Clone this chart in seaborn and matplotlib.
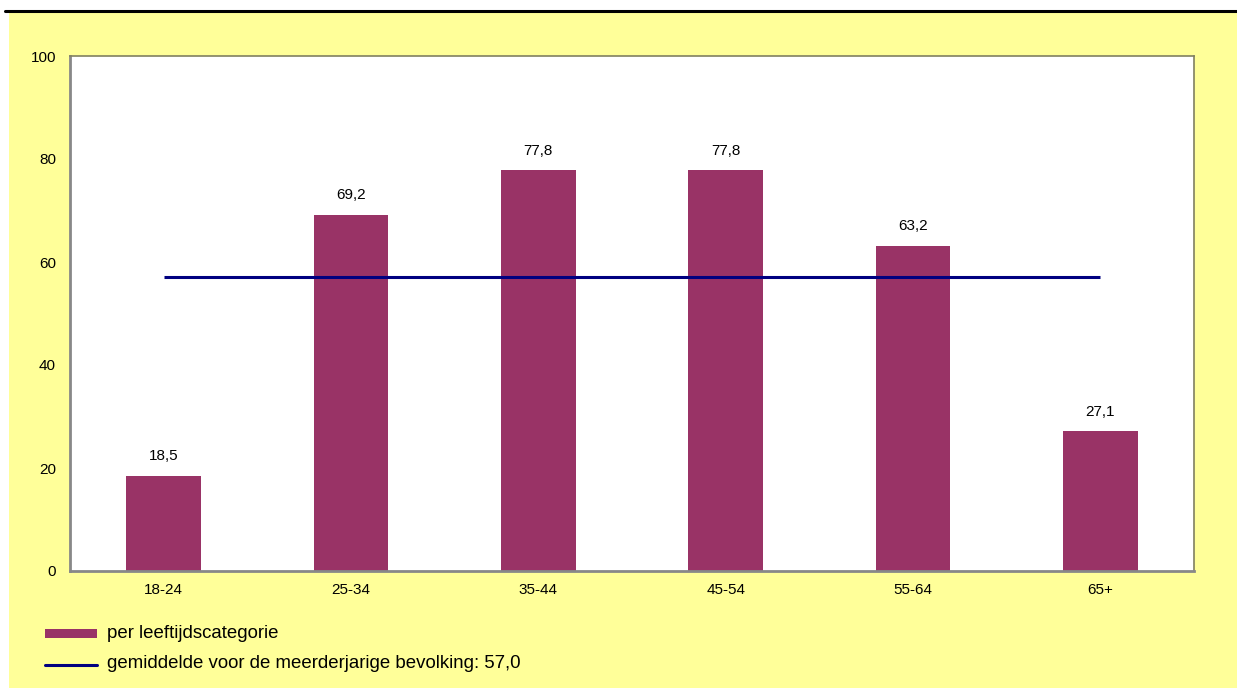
import matplotlib
matplotlib.use("Agg")
import matplotlib.pyplot as plt
import seaborn as sns
import pandas as pd
from matplotlib.patches import Rectangle
from matplotlib.lines import Line2D

# Age categories and their percentages
categories = ["18-24", "25-34", "35-44", "45-54", "55-64", "65+"]
values = [18.5, 69.2, 77.8, 77.8, 63.2, 27.1]
average = 57.0
yticks = [0, 20, 40, 60, 80, 100]

bar_label = "per leeftijdscategorie"
avg_label = "gemiddelde voor de meerderjarige bevolking: 57,0"

bar_color = "#993366"
avg_color = "#000080"
panel_color = "#FFFF99"

sns.set_theme(style="white")
plt.rcParams["font.family"] = ["Liberation Sans", "DejaVu Sans"]

W, H = 1237, 690
fig = plt.figure(figsize=(W / 100, H / 100), dpi=100)
fig.patch.set_facecolor("white")

# Yellow panel and black rule along the top
fig.add_artist(Rectangle((9 / W, 2 / H), 1 - 9 / W, 1 - 14 / H,
                         transform=fig.transFigure, facecolor=panel_color,
                         edgecolor="none", zorder=0))
fig.add_artist(Line2D([5 / W, 1], [1 - 10.5 / H, 1 - 10.5 / H],
                      transform=fig.transFigure, color="black", lw=2.2, zorder=1))

ax = fig.add_axes([70 / W, (H - 571) / H, 1124 / W, 515 / H])
ax.set_facecolor("white")

df = pd.DataFrame({"cat": categories, "val": values})
sns.barplot(data=df, x="cat", y="val", color=bar_color, saturation=1,
            width=0.4, linewidth=0, ax=ax, zorder=2)

# Average line across category centres
ax.plot([0, len(categories) - 1], [average, average], color=avg_color,
        lw=2.2, zorder=3, solid_capstyle="butt")

for i, v in enumerate(values):
    ax.annotate(f"{v:.1f}".replace(".", ","), (i, v), xytext=(0, 9),
                textcoords="offset points", ha="center", va="bottom",
                fontsize=11, color="black")

ax.set_xlim(-0.5, len(categories) - 0.5)
ax.set_ylim(0, 100)
ax.set_yticks(yticks)
ax.set_yticklabels([str(t) for t in yticks], fontsize=11, color="black")
ax.set_xticks([x + 0.5 for x in range(-1, len(categories))], minor=False)
ax.set_xticklabels([])
ax.set_xticks(range(len(categories)), minor=True)
ax.set_xticklabels(categories, minor=True, fontsize=11, color="black")
ax.tick_params(axis="x", which="major", direction="out", length=5,
               width=1.5, color="#888888")
ax.tick_params(axis="x", which="minor", length=0, pad=9)
ax.tick_params(axis="y", direction="out", length=6, width=1.5,
               color="#888888", pad=4)
ax.set_xlabel("")
ax.set_ylabel("")

for side in ["left", "bottom"]:
    ax.spines[side].set_color("#888888")
    ax.spines[side].set_linewidth(2)
for side in ["top", "right"]:
    ax.spines[side].set_color("#808060")
    ax.spines[side].set_linewidth(1.2)
    ax.spines[side].set_visible(True)

# Legend drawn below the plot area
fig.add_artist(Rectangle((45 / W, 1 - 638 / H), 52 / W, 9 / H,
                         transform=fig.transFigure, facecolor=bar_color,
                         edgecolor="none"))
fig.text(107 / W, 1 - 633 / H, bar_label, fontsize=13.4, va="center",
         ha="left", color="black")
fig.add_artist(Line2D([45 / W, 97 / W], [1 - 664.5 / H, 1 - 664.5 / H],
                      transform=fig.transFigure, color=avg_color, lw=2.2))
fig.text(107 / W, 1 - 664 / H, avg_label, fontsize=13.4, va="center",
         ha="left", color="black")

fig.savefig("out.png", dpi=100, facecolor=fig.get_facecolor())
